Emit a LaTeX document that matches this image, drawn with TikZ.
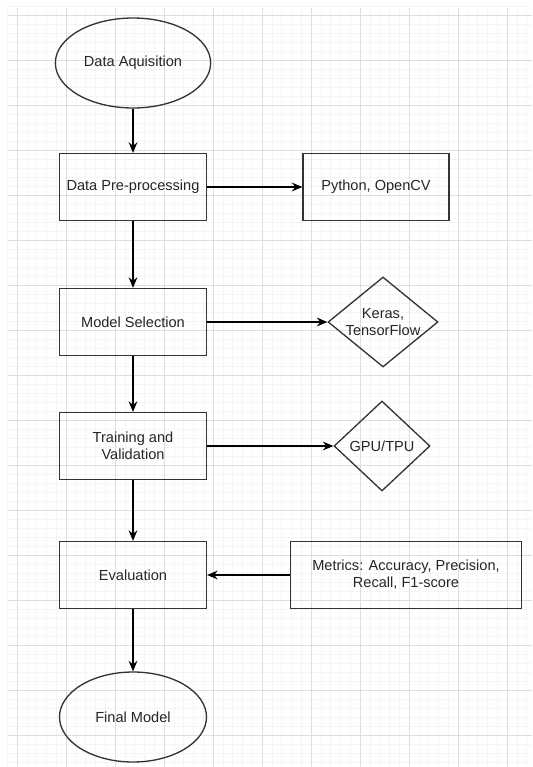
\documentclass[tikz,border=0pt]{standalone}
\usepackage{fontspec}
\setmainfont{Liberation Sans}
\usetikzlibrary{shapes.geometric,arrows.meta}

\begin{document}
\begin{tikzpicture}[x=0.02cm, y=-0.02cm, >={Stealth[length=6pt,width=5pt,inset=2pt]}, line width=0.75pt,
  every node/.style={font=\fontsize{8.3}{9.8}\selectfont, text=black!85, align=center},
  proc/.style={draw=black!80, rectangle, minimum width=2.94cm, minimum height=1.34cm},
  term/.style={draw=black!80, ellipse, minimum width=2.94cm, minimum height=1.8cm},
  tool/.style={draw=black!80, diamond, inner sep=-5pt, minimum height=1.8cm}]

\useasboundingbox (0,0) rectangle (532,767);
\fill[white] (0,0) rectangle (532,767);

% background grid
\begin{scope}[line width=0.3pt]
\foreach \i in {0,...,53} \draw[black!4] ({7.2+\i*9.8},8) -- (7.2+\i*9.8,767);
\foreach \i in {0,...,84} \draw[black!4] (8,{6+\i*9}) -- (532,6+\i*9);
\foreach \i in {0,...,10} \draw[black!13] ({17+\i*49},8) -- (17+\i*49,767);
\foreach \i in {0,...,16} \draw[black!13] (8,{15+\i*45}) -- (532,15+\i*45);
\end{scope}

\node[term] (acq) at (133,63) {Data Aquisition};
\node[proc] (pre) at (133,187) {Data Pre-processing};
\node[proc, minimum width=2.92cm] (py) at (376,187) {Python, OpenCV};
\node[proc] (sel) at (133,322) {Model Selection};
\node[tool, minimum width=2.2cm] (keras) at (383,322) {Keras,\\TensorFlow};
\node[proc] (train) at (133,446) {Training and\\Validation};
\node[tool, minimum width=1.92cm] (gpu) at (382,446) {GPU/TPU};
\node[proc] (eval) at (133,575) {Evaluation};
\node[proc, minimum width=4.62cm] (met) at (406,575) {Metrics: Accuracy, Precision,\\Recall, F1-score};
\node[term] (fin) at (133,717) {Final Model};

\draw[->] (acq) edge (pre);
\draw[->] (pre) edge (sel);
\draw[->] (sel) edge (train);
\draw[->] (train) edge (eval);
\draw[->] (eval) edge (fin);

\draw[->] (pre) edge (py);
\draw[->] (sel) edge (keras);
\draw[->] (train) edge (gpu);
\draw[->] (met) edge (eval);

\end{tikzpicture}
\end{document}
